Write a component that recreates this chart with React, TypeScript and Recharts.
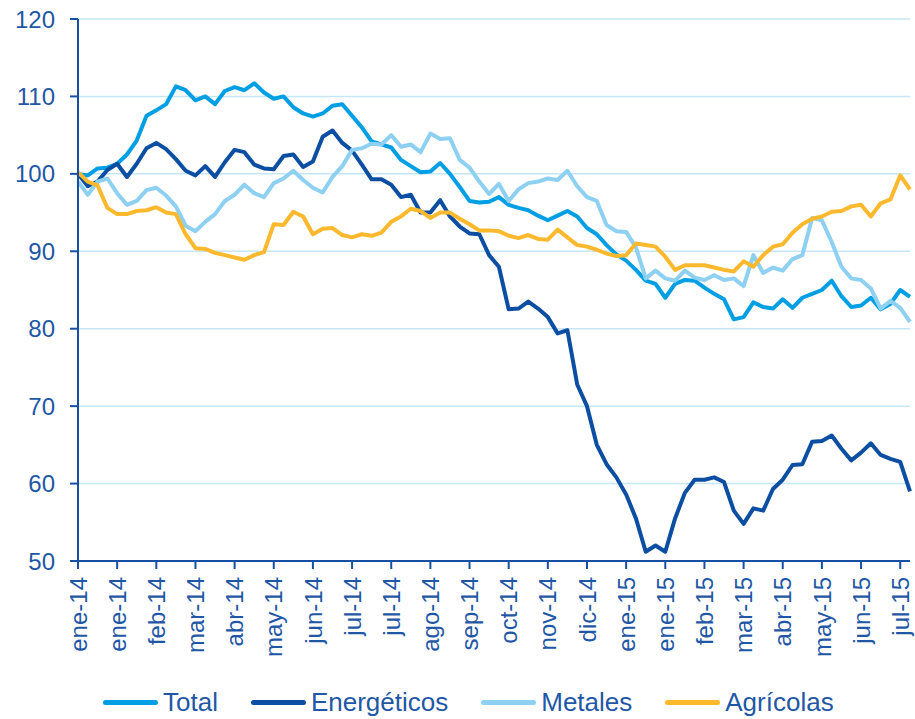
import React from 'react';
import { LineChart, Line, XAxis, YAxis, CartesianGrid, Legend } from 'recharts';

// Etiquetas del eje X (una cada 4 observaciones)
const tickLabels = [
  'ene-14', 'ene-14', 'feb-14', 'mar-14', 'abr-14', 'may-14', 'jun-14', 'jul-14',
  'jul-14', 'ago-14', 'sep-14', 'oct-14', 'nov-14', 'dic-14', 'ene-15', 'ene-15',
  'feb-15', 'mar-15', 'abr-15', 'may-15', 'jun-15', 'jul-15',
];

const total = [
  100, 99.8, 100.7, 100.8, 101.3, 102.5, 104.3, 107.5, 108.2, 109,
  111.3, 110.8, 109.5, 110, 109, 110.7, 111.2, 110.8, 111.7, 110.5,
  109.7, 110, 108.6, 107.8, 107.4, 107.8, 108.8, 109, 107.5, 106,
  104.2, 103.8, 103.4, 101.8, 101, 100.2, 100.3, 101.4, 100, 98.3,
  96.5, 96.3, 96.4, 97, 96, 95.6, 95.3, 94.6, 94, 94.6,
  95.2, 94.5, 93, 92.2, 90.8, 89.6, 88.8, 87.6, 86.2, 85.8,
  84, 85.8, 86.3, 86.2, 85.3, 84.5, 83.8, 81.2, 81.5, 83.4,
  82.8, 82.6, 83.8, 82.7, 84, 84.5, 85, 86.2, 84.2, 82.8,
  83, 84, 82.5, 83.2, 85, 84.1,
];

const energeticos = [
  100, 98.4, 99, 100.5, 101.3, 99.6, 101.3, 103.3, 104, 103.2,
  101.9, 100.4, 99.8, 101, 99.6, 101.5, 103.1, 102.8, 101.2, 100.7,
  100.6, 102.3, 102.5, 100.9, 101.6, 104.8, 105.6, 104, 103, 101.2,
  99.3, 99.3, 98.6, 97, 97.3, 95, 95, 96.6, 94.5, 93.2,
  92.3, 92.2, 89.5, 88, 82.5, 82.6, 83.5, 82.6, 81.5, 79.4,
  79.8, 72.8, 70, 65, 62.5, 60.8, 58.6, 55.5, 51.2, 52,
  51.2, 55.5, 58.8, 60.5, 60.5, 60.8, 60.2, 56.5, 54.8, 56.8,
  56.5, 59.3, 60.5, 62.4, 62.5, 65.4, 65.5, 66.2, 64.5, 63,
  64, 65.2, 63.7, 63.2, 62.8, 59,
];

const metales = [
  99, 97.3, 99, 99.4, 97.5, 96, 96.5, 97.9, 98.2, 97.2,
  95.8, 93.3, 92.6, 93.8, 94.8, 96.5, 97.3, 98.6, 97.5, 97,
  98.8, 99.4, 100.4, 99.2, 98.2, 97.6, 99.6, 101, 103.1, 103.3,
  103.9, 103.8, 105, 103.5, 103.8, 102.8, 105.2, 104.5, 104.6, 101.8,
  100.8, 99, 97.4, 98.7, 96.5, 98, 98.8, 99, 99.4, 99.2,
  100.4, 98.4, 97, 96.5, 93.4, 92.6, 92.5, 90.5, 86.5, 87.5,
  86.5, 86.2, 87.5, 86.6, 86.3, 86.9, 86.3, 86.5, 85.5, 89.5,
  87.2, 87.9, 87.5, 89, 89.5, 94.3, 94, 91.2, 88, 86.5,
  86.3, 85.2, 82.6, 83.6, 82.7, 80.9,
];

const agricolas = [
  100.2, 99, 98.5, 95.6, 94.8, 94.8, 95.2, 95.3, 95.7, 95,
  94.8, 92.2, 90.4, 90.3, 89.8, 89.5, 89.2, 88.9, 89.5, 89.9,
  93.5, 93.4, 95.1, 94.5, 92.2, 92.9, 93, 92.1, 91.8, 92.2,
  92, 92.4, 93.8, 94.5, 95.5, 95.2, 94.3, 95, 95, 94.2,
  93.5, 92.7, 92.7, 92.6, 92, 91.7, 92.1, 91.6, 91.5, 92.8,
  91.8, 90.8, 90.6, 90.2, 89.7, 89.4, 89.5, 91, 90.8, 90.6,
  89.3, 87.6, 88.2, 88.2, 88.2, 87.9, 87.6, 87.4, 88.7, 88,
  89.5, 90.6, 90.9, 92.4, 93.5, 94.2, 94.5, 95.1, 95.2, 95.8,
  96, 94.5, 96.2, 96.7, 99.8, 98,
];

const yTicks = [50, 60, 70, 80, 90, 100, 110, 120];

const series = [
  { key: 'total', name: 'Total', color: '#009FE3' },
  { key: 'energeticos', name: 'Energéticos', color: '#0B4EA2' },
  { key: 'metales', name: 'Metales', color: '#8DD0F2' },
  { key: 'agricolas', name: 'Agrícolas', color: '#FDB92E' },
];

const data = total.map((v, i) => ({
  i,
  total: v,
  energeticos: energeticos[i],
  metales: metales[i],
  agricolas: agricolas[i],
}));

const xTicks = tickLabels.map((_, k) => k * 4);

const TEXT = '#1F57A6';
const AXIS = '#1550A3';
const FONT = '"Liberation Sans", Arial, sans-serif';

const RotatedTick = (props: any) => {
  const { x, y, payload } = props;
  return (
    <text
      transform={`translate(${x},${y + 6}) rotate(-90)`}
      textAnchor="end"
      dy="0.36em"
      fill={TEXT}
      fontSize={24}
      fontFamily={FONT}
    >
      {tickLabels[payload.value / 4]}
    </text>
  );
};

const CustomLegend = () => (
  <div
    style={{
      height: 58,
      boxSizing: 'border-box',
      paddingTop: 28,
      paddingLeft: 103,
      display: 'flex',
      fontFamily: FONT,
    }}
  >
    {series.map((s) => (
      <div key={s.key} style={{ display: 'flex', alignItems: 'center', height: 26, marginRight: 33 }}>
        <div style={{ width: 55, height: 5, borderRadius: 3, background: s.color, marginRight: 5 }} />
        <span style={{ fontSize: 26, lineHeight: '26px', color: TEXT }}>{s.name}</span>
      </div>
    ))}
  </div>
);

export default function App() {
  return (
    <div style={{ position: 'absolute', left: 0, top: 0, width: 915, height: 719, background: '#fff' }}>
      <LineChart width={915} height={719} data={data} margin={{ top: 19, right: 5, left: 0, bottom: 0 }}>
        <CartesianGrid horizontal vertical={false} stroke="#C6E6F6" strokeWidth={1.5} />
        <XAxis
          dataKey="i"
          type="number"
          domain={[0, 85]}
          ticks={xTicks}
          interval={0}
          height={100}
          tick={<RotatedTick />}
          tickSize={8}
          stroke={AXIS}
          strokeWidth={2}
        />
        <YAxis
          domain={[50, 120]}
          ticks={yTicks}
          width={78}
          tickSize={8}
          tickMargin={15}
          stroke={AXIS}
          strokeWidth={2}
          tick={{ fill: TEXT, fontSize: 24, fontFamily: FONT }}
        />
        <Legend verticalAlign="bottom" height={58} content={<CustomLegend />} />
        {series.map((s) => (
          <Line
            key={s.key}
            type="linear"
            dataKey={s.key}
            name={s.name}
            stroke={s.color}
            strokeWidth={4}
            dot={false}
            strokeLinejoin="round"
            isAnimationActive={false}
          />
        ))}
      </LineChart>
    </div>
  );
}
